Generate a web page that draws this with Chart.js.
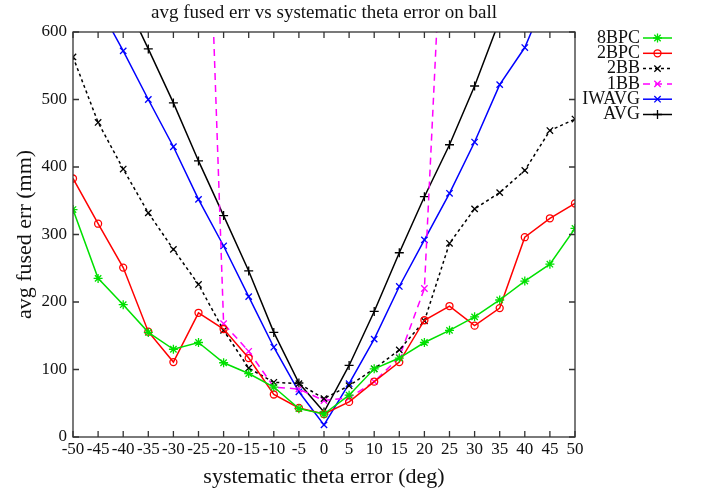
<!DOCTYPE html>
<html>
<head>
<meta charset="utf-8">
<script src="https://cdn.jsdelivr.net/npm/chart.js@4/dist/chart.umd.min.js"></script>
<style>
  html,body{margin:0;padding:0;background:#fff;}
  #wrap{width:701px;height:494px;}
</style>
</head>
<body>
<div id="wrap"><canvas id="chart" width="701" height="494"></canvas></div>
<script>
/* ---------- data ---------- */
const degs   = [-50,-45,-40,-35,-30,-25,-20,-15,-10,-5,0,5,10,15,20,25,30,35,40,45,50];
const bpc8   = [337,235,196,155,130,140,110,94,74,42,34,62,101,117,140,158,178,203,231,256,309];
const bpc2   = [383,316,251,156,111,184,160,117,63,43,34,52,82,111,173,194,165,191,296,324,346];
const bb2    = [563,466,397,332,278,226,158,102,81,79,57,76,101,129,172,287,338,362,395,454,471];
const bb1    = [null,null,null,null,null,1250,168,127,74,71,54,58,82,118,220,1000,null,null,null,null,null];
const iwavg  = [710,640,572,500,430,352,283,208,133,67,18,79,145,223,292,361,437,522,577,665,740];
const avg    = [820,740,653,575,495,409,328,246,155,80,37,106,186,273,356,433,520,618,720,810,900];
const yTicks = [0,100,200,300,400,500,600];

const titleText = 'avg fused err vs systematic theta error on ball';
const serif = '"Liberation Serif", "DejaVu Serif", serif';

/* ---------- series ---------- */
const series = [
  {label:'8BPC',  data:bpc8,  color:'#00e000', pt:'star',     dash:[]},
  {label:'2BPC',  data:bpc2,  color:'#ff0000', pt:'circle',   dash:[]},
  {label:'2BB',   data:bb2,   color:'#000000', pt:'crossRot', dash:[3,3]},
  {label:'1BB',   data:bb1,   color:'#ff00ff', pt:'crossRot', dash:[7,5]},
  {label:'IWAVG', data:iwavg, color:'#0000ff', pt:'crossRot', dash:[]},
  {label:'AVG',   data:avg,   color:'#000000', pt:'cross',    dash:[]}
];

const datasets = series.map(s => ({
  label: s.label,
  data: degs.map((d,i) => ({x:d, y:s.data[i]})),
  borderColor: s.color,
  backgroundColor: 'rgba(0,0,0,0)',
  borderWidth: 1.5,
  borderDash: s.dash,
  pointStyle: s.pt,
  pointRadius: s.pt === 'circle' ? 3.5 : 4.5,
  pointBorderColor: s.color,
  pointBackgroundColor: 'rgba(0,0,0,0)',
  pointBorderWidth: 1.3,
  tension: 0,
  spanGaps: false
}));

/* ---------- frame, inward ticks, title, legend ---------- */
const gnuplotLook = {
  id: 'gnuplotLook',
  afterDraw(chart){
    const {ctx, chartArea:a, scales:{x, y}} = chart;
    ctx.save();
    ctx.strokeStyle = '#333';
    ctx.lineWidth = 1.3;
    ctx.setLineDash([]);
    ctx.strokeRect(a.left, a.top, a.right - a.left, a.bottom - a.top);
    const tl = 6;
    ctx.beginPath();
    degs.forEach(d => {
      const px = x.getPixelForValue(d);
      ctx.moveTo(px, a.bottom); ctx.lineTo(px, a.bottom - tl);
      ctx.moveTo(px, a.top);    ctx.lineTo(px, a.top + tl);
    });
    yTicks.forEach(v => {
      const py = y.getPixelForValue(v);
      ctx.moveTo(a.left, py);  ctx.lineTo(a.left + tl, py);
      ctx.moveTo(a.right, py); ctx.lineTo(a.right - tl, py);
    });
    ctx.stroke();

    // title
    ctx.fillStyle = '#111';
    ctx.font = '19px ' + serif;
    ctx.textAlign = 'center';
    ctx.textBaseline = 'middle';
    ctx.fillText(titleText, (a.left + a.right) / 2, 13);

    // legend, gnuplot style: text right-aligned, sample to the right
    ctx.font = '18px ' + serif;
    ctx.textAlign = 'right';
    const tx = 640, x0 = 643, x1 = 672, y0 = 38, dy = 15.3;
    chart.data.datasets.forEach((ds, i) => {
      const yy = y0 + i * dy;
      ctx.fillStyle = '#111';
      ctx.fillText(ds.label, tx, yy);
      ctx.strokeStyle = ds.borderColor;
      ctx.lineWidth = 1.5;
      ctx.setLineDash(ds.borderDash);
      ctx.beginPath();
      ctx.moveTo(x0, yy); ctx.lineTo(x1, yy);
      ctx.stroke();
      ctx.setLineDash([]);
      ctx.lineWidth = 1.3;
      ctx.fillStyle = 'rgba(0,0,0,0)';
      Chart.helpers.drawPoint(ctx, {pointStyle: ds.pointStyle, radius: ds.pointRadius,
                                    rotation: 0, borderWidth: 1.3}, (x0 + x1) / 2, yy);
    });
    ctx.restore();
  }
};

/* ---------- chart ---------- */
new Chart(document.getElementById('chart').getContext('2d'), {
  type: 'line',
  data: {datasets},
  options: {
    responsive: false,
    animation: false,
    events: [],
    layout: {padding: {left: 0, right: 126, top: 32, bottom: 0}},
    plugins: {legend: {display: false}, tooltip: {enabled: false}, title: {display: false}},
    scales: {
      x: {
        type: 'linear', min: -50, max: 50,
        grid: {display: false, drawTicks: false},
        border: {display: false},
        ticks: {stepSize: 5, autoSkip: false, maxRotation: 0, padding: 2,
                color: '#111', font: {family: serif, size: 17}},
        title: {display: true, text: 'systematic theta error (deg)', color: '#111',
                font: {family: serif, size: 22}, padding: {top: 0, bottom: 4}},
        afterFit: s => { s.height = 57; }
      },
      y: {
        min: 0, max: 600,
        grid: {display: false, drawTicks: false},
        border: {display: false},
        ticks: {stepSize: 100, padding: 6, color: '#111', font: {family: serif, size: 17}},
        title: {display: true, text: 'avg fused err (mm)', color: '#111',
                font: {family: serif, size: 22}, padding: {top: 12, bottom: 0}},
        afterFit: s => { s.width = 73; }
      }
    }
  },
  plugins: [gnuplotLook]
});
</script>
</body>
</html>
